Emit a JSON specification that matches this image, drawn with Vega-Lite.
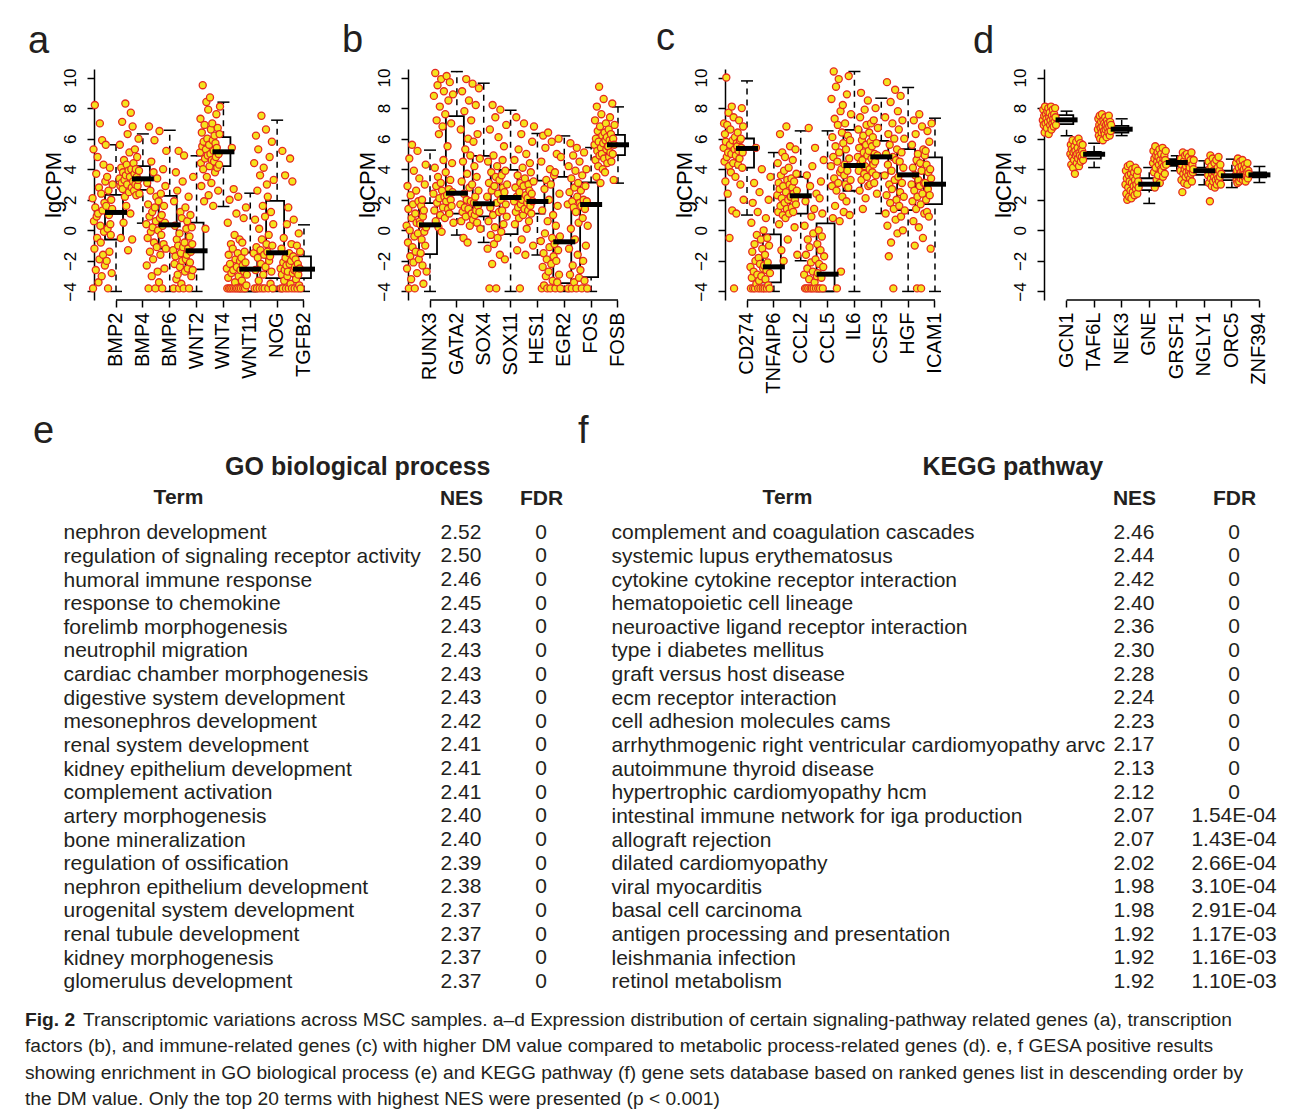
{
"$schema": "https://vega.github.io/schema/vega-lite/v6.json",
"background": "white",
"padding": {"left": 5, "top": 20, "right": 0, "bottom": 0},
"config": {"font": "Liberation Sans", "view": {"stroke": null}, "title": {"color": "#231f20", "font": "Liberation Sans"}, "axis": {"labelFont": "Liberation Sans", "titleFont": "Liberation Sans"}, "axisY": {"labelOverlap": false}},
"datasets": {
"stats": [
{"panel":"a","gene":"BMP2","lo":-4,"q1":-0.6,"med":1.17,"q3":2.32,"hi":5.6},
{"panel":"a","gene":"BMP4","lo":0.47,"q1":2.65,"med":3.37,"q3":4.2,"hi":6.31},
{"panel":"a","gene":"BMP6","lo":-4,"q1":-1.19,"med":0.36,"q3":2.26,"hi":6.55},
{"panel":"a","gene":"WNT2","lo":-4,"q1":-2.56,"med":-1.34,"q3":0.51,"hi":4.88},
{"panel":"a","gene":"WNT4","lo":1.56,"q1":4.2,"med":5.14,"q3":6.1,"hi":8.39},
{"panel":"a","gene":"WNT11","lo":-4,"q1":-4,"med":-2.54,"q3":-1.45,"hi":2.43},
{"panel":"a","gene":"NOG","lo":-4,"q1":-3.13,"med":-1.47,"q3":1.93,"hi":7.21},
{"panel":"a","gene":"TGFB2","lo":-4,"q1":-3.13,"med":-2.54,"q3":-1.71,"hi":0.36},
{"panel":"b","gene":"RUNX3","lo":-4,"q1":-1.56,"med":0.36,"q3":1.78,"hi":5.25},
{"panel":"b","gene":"GATA2","lo":-0.31,"q1":1.1,"med":2.43,"q3":7.47,"hi":10.39},
{"panel":"b","gene":"SOX4","lo":-0.79,"q1":0.91,"med":1.74,"q3":4.88,"hi":9.63},
{"panel":"b","gene":"SOX11","lo":-4,"q1":-0.25,"med":2.15,"q3":3.96,"hi":7.86},
{"panel":"b","gene":"HES1","lo":-1.62,"q1":1.1,"med":1.89,"q3":3.26,"hi":6.34},
{"panel":"b","gene":"EGR2","lo":-4,"q1":-3.45,"med":-0.75,"q3":3.5,"hi":6.18},
{"panel":"b","gene":"FOS","lo":-4,"q1":-3.06,"med":1.69,"q3":3.13,"hi":5.42},
{"panel":"b","gene":"FOSB","lo":3.09,"q1":4.92,"med":5.6,"q3":6.25,"hi":8.08},
{"panel":"c","gene":"CD274","lo":1.0,"q1":4.11,"med":5.36,"q3":6.01,"hi":9.78},
{"panel":"c","gene":"TNFAIP6","lo":-4,"q1":-3.41,"med":-2.39,"q3":-0.27,"hi":5.09},
{"panel":"c","gene":"CCL2","lo":-1.99,"q1":1.1,"med":2.26,"q3":3.5,"hi":6.51},
{"panel":"c","gene":"CCL5","lo":-4,"q1":-4,"med":-2.87,"q3":0.45,"hi":6.51},
{"panel":"c","gene":"IL6","lo":-4,"q1":2.59,"med":4.24,"q3":6.58,"hi":10.4},
{"panel":"c","gene":"CSF3","lo":1.1,"q1":3.72,"med":4.81,"q3":5.86,"hi":8.65},
{"panel":"c","gene":"HGF","lo":-4,"q1":1.32,"med":3.63,"q3":5.31,"hi":9.35},
{"panel":"c","gene":"ICAM1","lo":-4,"q1":1.71,"med":3.02,"q3":4.77,"hi":7.34},
{"panel":"d","gene":"GCN1","lo":6.19,"q1":6.95,"med":7.23,"q3":7.54,"hi":7.8},
{"panel":"d","gene":"TAF6L","lo":4.11,"q1":4.7,"med":4.98,"q3":5.14,"hi":5.7},
{"panel":"d","gene":"NEK3","lo":6.2,"q1":6.4,"med":6.62,"q3":6.84,"hi":7.3},
{"panel":"d","gene":"GNE","lo":1.76,"q1":2.63,"med":3.02,"q3":3.41,"hi":4.11},
{"panel":"d","gene":"GRSF1","lo":3.9,"q1":4.22,"med":4.44,"q3":4.66,"hi":4.88},
{"panel":"d","gene":"NGLY1","lo":2.98,"q1":3.63,"med":3.9,"q3":4.11,"hi":4.55},
{"panel":"d","gene":"ORC5","lo":2.8,"q1":3.28,"med":3.57,"q3":3.9,"hi":4.66},
{"panel":"d","gene":"ZNF394","lo":3.13,"q1":3.46,"med":3.63,"q3":3.79,"hi":4.18}
],
"pts": [
{"panel":"a","gene":"BMP2","v":[2.1,-3.8,5.3,0.6,-1.2,8.2,1.5,-2.6,3.7,0.9,-0.5,4.8,1.1,-3.4,2.8,-1.9,7.0,0.3,-0.8,2.4,-3.0,5.9,1.3,-1.6,4.3,-0.1,1.8,-2.3,3.2,5.6,1.6,-2.0,3.5,0.1,-3.8,2.6,1.0,-1.4,4.1,0.4,-0.3,2.0,-2.8,1.4,3.0]},
{"panel":"a","gene":"BMP4","v":[3.4,5.6,2.9,-0.5,4.1,3.1,7.1,2.7,3.8,0.5,4.6,3.3,2.2,8.3,3.6,1.6,4.3,3.0,6.3,-1.3,3.9,2.5,5.1,3.5,1.1,7.7,4.0,2.8,-0.6,6.8,3.2,4.4,2.6,3.7,5.3,3.0,4.0,2.3,3.5,4.8,2.9,3.3,6.0,3.9,2.4]},
{"panel":"a","gene":"BMP6","v":[0.4,-2.3,3.1,-0.5,1.7,-3.8,6.8,0.9,-1.4,2.6,-0.1,4.5,-3.0,1.2,0.2,-1.9,3.8,-0.8,5.9,1.5,-3.8,0.6,2.2,-1.1,3.4,-2.7,0.0,1.9,-3.4,6.5,0.8,-1.6,2.4,-0.3,1.0,-3.8,0.3,4.0,-0.9,1.6,-2.5,0.5,2.9,-1.2,5.2]},
{"panel":"a","gene":"WNT2","v":[-1.3,-3.8,1.9,-2.2,0.3,-1.7,3.8,-3.2,-0.6,2.6,-2.9,-1.0,5.2,-3.8,-0.2,-2.4,1.2,-1.5,-3.5,0.8,-2.0,3.2,-1.1,-3.8,4.9,-0.8,-2.7,1.5,-1.9,0.1,-1.6,0.6,-2.5,-1.2,2.2,-3.8,-0.4,-2.1,1.0,-1.4,-3.0,0.2,-0.9,-2.6,3.5]},
{"panel":"a","gene":"WNT4","v":[5.1,7.3,4.4,2.9,6.4,5.5,9.5,4.0,5.8,1.9,6.9,4.7,0.1,5.3,8.4,3.5,6.0,4.9,7.9,2.3,5.6,4.2,8.7,5.0,6.6,3.1,4.6,7.0,5.9,1.6,5.2,4.5,6.2,3.8,5.7,4.8,7.6,5.4,4.1,6.7,2.6,5.0,4.3,6.3,8.1]},
{"panel":"a","gene":"WNT11","v":[-2.5,-3.8,0.5,-3.1,-1.6,-3.8,2.0,-2.2,-3.8,-0.9,-2.8,5.4,-3.8,-1.2,-2.6,2.7,-3.8,-0.3,-3.4,-1.9,-3.8,1.1,-2.4,-3.8,-1.5,2.2,-3.0,-3.8,-0.6,-2.0,-2.6,-3.8,-1.8,-3.3,-0.8,-2.3,-3.8,0.8,-2.7,-1.4,-3.8,-2.1,1.5,-3.6,-2.9]},
{"panel":"a","gene":"NOG","v":[-1.5,4.4,-3.8,0.7,-2.6,6.2,-1.1,-3.8,2.6,-1.8,5.3,-3.3,0.1,-3.8,3.6,-1.3,-2.2,7.5,-0.6,-3.8,1.6,-2.9,4.1,-1.6,-3.8,0.9,-2.4,6.6,-0.9,3.0,-1.4,2.2,-3.8,-0.3,-2.0,4.8,-1.7,-3.5,1.2,-2.7,5.8,-1.0,-3.8,0.4,3.3]},
{"panel":"a","gene":"TGFB2","v":[-2.5,-3.8,-1.2,-2.9,5.2,-3.8,-2.1,-0.5,-3.3,-2.6,3.6,-1.8,-3.8,-2.3,0.4,-3.0,-2.7,1.5,-3.8,-1.5,-2.2,4.7,-3.5,-2.0,-0.9,-3.8,3.2,-2.8,-1.7,0.7,-2.6,-3.8,-2.4,-1.9,-3.2,-2.7,-1.0,-3.8,-2.2,-2.9,-0.2,-3.6,-2.5,-1.4,-3.8]},
{"panel":"b","gene":"RUNX3","v":[0.3,-2.5,2.9,-0.8,1.4,-3.8,4.7,0.0,-1.7,2.3,-3.2,0.8,5.6,-1.1,1.7,-2.1,3.9,-0.4,-3.8,1.1,-1.4,2.6,0.5,-2.8,5.2,-0.2,1.9,-1.9,3.4,0.6,0.4,-1.5,1.6,-0.6,2.0,-2.3,0.9,-3.5,1.3,-0.1,3.0,-1.0,4.3,0.2,-2.7]},
{"panel":"b","gene":"GATA2","v":[2.4,8.8,1.3,4.1,10.3,0.6,2.9,7.2,1.8,9.5,3.5,0.2,6.3,2.1,8.1,1.0,3.1,9.9,-0.1,2.6,6.8,1.5,4.6,9.1,2.2,0.8,7.6,3.8,1.9,10.1,2.3,5.5,1.4,8.5,2.7,1.1,9.7,3.3,2.0,7.0,1.6,4.4,2.5,8.9,0.5]},
{"panel":"b","gene":"SOX4","v":[1.7,6.6,0.6,3.2,9.1,1.2,4.5,-0.5,2.4,7.8,1.5,5.3,0.9,9.9,2.0,3.7,-0.8,6.0,1.4,8.5,2.8,0.3,4.9,1.9,7.2,1.1,3.0,9.6,0.7,5.8,1.8,4.2,1.0,2.2,8.2,1.3,3.5,0.5,6.3,1.6,2.6,9.3,1.2,4.7,0.1]},
{"panel":"b","gene":"SOX11","v":[2.2,-1.2,4.5,0.6,3.1,-3.8,6.6,1.5,-0.3,3.8,2.6,-2.2,8.2,1.0,4.9,-0.9,2.9,0.2,7.4,3.5,-3.8,1.8,4.2,-0.5,2.4,6.1,1.2,3.3,-1.6,7.9,2.0,-0.1,3.6,1.3,4.6,2.8,0.4,5.5,2.5,-1.9,3.9,1.7,6.9,0.9,3.0]},
{"panel":"b","gene":"HES1","v":[1.9,4.6,0.4,2.8,1.2,7.4,2.2,-1.3,3.6,1.5,5.3,0.8,2.5,-3.8,3.1,1.7,6.3,-0.6,2.0,4.1,1.0,2.9,7.0,1.4,3.4,-1.6,2.3,5.0,0.1,1.8,2.1,1.3,3.0,0.6,2.6,4.4,1.6,3.8,1.1,2.4,5.8,1.9,-1.0,3.2,6.8]},
{"panel":"b","gene":"EGR2","v":[-0.7,4.5,-3.8,1.3,-2.4,6.2,-1.5,-3.6,2.7,-0.2,5.4,-3.0,3.3,-1.9,-3.8,0.6,6.4,-2.7,2.0,-1.1,4.0,-3.8,3.0,-2.2,5.8,-0.5,-3.3,1.0,-1.7,3.6,-0.9,3.8,-3.8,0.3,-2.0,5.0,-3.4,1.6,-1.3,6.0,-2.9,2.4,-0.4,-3.8,4.8]},
{"panel":"b","gene":"FOS","v":[1.7,-3.8,4.2,-1.2,2.5,-2.9,5.7,0.1,3.4,-3.8,1.9,-2.3,4.9,1.5,-3.4,2.8,-0.6,3.9,1.2,-3.8,5.4,2.2,-1.6,3.1,0.5,-3.1,4.5,1.8,-2.6,2.6,1.6,-3.8,3.6,0.8,-2.0,2.0,5.1,-3.3,1.4,2.9,-1.0,4.0,1.9,-3.8,0.3]},
{"panel":"b","gene":"FOSB","v":[5.6,7.2,4.6,6.0,3.5,8.1,5.2,6.5,4.2,5.8,9.4,4.9,6.8,3.1,5.4,7.6,5.0,6.2,4.0,5.7,8.6,4.7,6.4,3.8,5.9,7.0,5.3,6.1,4.4,5.5,5.5,6.6,4.8,5.9,7.4,5.1,6.3,4.5,5.7,8.3,5.0,6.0,3.3,5.6,6.9]},
{"panel":"c","gene":"CD274","v":[5.4,7.0,4.5,6.3,3.2,5.8,10.0,4.8,6.9,2.4,5.1,7.7,4.2,-0.5,5.6,6.6,3.8,5.0,8.1,1.3,5.9,4.4,7.4,-3.8,5.3,6.1,3.5,4.9,1.1,5.7,5.5,6.4,4.3,5.2,7.2,4.7,5.9,3.0,6.0,5.4,8.0,4.1,5.1,6.8,2.0]},
{"panel":"c","gene":"TNFAIP6","v":[-2.4,-3.8,0.5,-3.1,-1.4,1.8,-3.8,-2.7,3.1,-0.9,-3.8,-2.0,5.4,-3.5,-0.3,-2.9,1.2,-3.8,-1.8,-3.3,2.5,-2.2,-3.8,-0.6,-3.0,4.0,-1.2,-3.8,-2.5,0.0,-2.3,-3.8,-1.6,-3.2,0.8,-2.6,-3.8,-0.5,-2.1,-3.6,2.0,-1.0,-3.8,-2.8,3.5]},
{"panel":"c","gene":"CCL2","v":[2.3,4.4,1.2,3.1,0.4,2.7,6.3,1.6,3.6,-1.3,2.1,5.1,1.0,2.9,-2.0,3.9,1.8,4.8,0.8,2.5,6.8,1.4,3.3,-0.6,2.0,4.1,1.1,3.0,5.5,2.2,2.2,3.4,1.5,2.8,4.6,1.2,2.4,3.2,0.2,2.0,5.3,1.7,3.7,2.6,-1.6]},
{"panel":"c","gene":"CCL5","v":[-2.9,0.3,-3.8,1.9,-1.6,-3.8,3.6,-2.5,-0.6,-3.8,6.7,-3.2,-1.1,2.9,-3.8,-2.1,0.9,-3.8,4.2,-2.7,-0.2,-3.8,1.4,-3.4,5.4,-1.9,-3.8,2.4,-3.0,-0.9,-2.8,-3.8,0.0,-2.2,2.1,-3.8,-1.3,3.2,-3.1,-0.4,1.1,-3.8,-2.4,4.6,-1.7]},
{"panel":"c","gene":"IL6","v":[4.2,8.6,2.9,6.1,0.8,4.8,10.4,3.4,7.3,1.6,5.5,9.4,2.6,-3.8,4.5,6.9,3.1,9.9,5.1,0.6,3.8,7.8,-2.7,4.0,6.4,2.2,8.2,5.7,1.2,3.6,4.3,7.0,3.0,5.3,1.9,8.9,3.9,6.2,2.8,10.1,4.7,1.0,5.9,3.3,7.6]},
{"panel":"c","gene":"CSF3","v":[4.8,6.6,3.9,5.4,2.6,7.4,4.4,9.0,3.3,5.9,4.6,1.4,6.2,5.1,3.7,7.9,4.2,2.1,5.6,6.9,3.5,4.9,8.5,2.9,5.2,6.4,4.0,3.0,5.8,7.0,4.7,5.5,3.8,6.1,4.3,7.2,3.1,5.0,4.5,8.0,3.6,5.7,2.4,4.9,6.7]},
{"panel":"c","gene":"HGF","v":[3.6,7.4,1.1,5.0,2.3,9.7,0.3,4.3,6.3,-1.7,3.0,5.6,1.8,8.4,-0.8,3.9,2.7,7.0,4.8,-3.8,1.4,6.0,3.3,9.2,0.7,4.6,2.0,5.3,-0.2,7.8,3.5,6.6,1.6,4.5,2.5,8.8,0.9,5.1,3.1,7.2,0.0,4.1,2.2,6.0,1.3]},
{"panel":"c","gene":"ICAM1","v":[3.0,5.6,1.9,4.1,0.6,7.2,2.6,-1.0,3.6,6.3,1.4,4.6,-3.8,2.2,5.0,3.3,0.2,7.6,2.9,4.4,1.7,-3.8,3.9,6.8,2.4,-0.5,5.3,3.1,1.1,4.9,3.1,5.2,2.0,4.3,1.2,6.5,2.7,3.8,0.9,5.8,2.3,4.0,-1.2,3.4,7.0]},
{"panel":"d","gene":"GCN1","v":[7.2,7.9,6.9,7.5,6.4,8.1,7.0,7.6,7.3,6.7,7.8,7.1,8.0,6.3,7.4,7.7,6.9,7.2,8.1,6.6,7.5,7.0,7.9,7.3,6.8,7.6,7.1,8.0,7.4,6.9]},
{"panel":"d","gene":"TAF6L","v":[5.0,5.6,4.3,5.3,4.8,5.9,4.1,5.1,4.6,5.5,3.7,5.2,4.9,5.8,4.4,5.0,5.4,4.7,6.0,4.2,5.1,4.9,5.7,4.5,5.3,4.8,5.2,5.6,4.6,5.0]},
{"panel":"d","gene":"NEK3","v":[6.6,7.3,6.2,6.9,7.5,6.0,6.7,7.1,6.4,7.6,6.8,5.9,7.2,6.5,7.0,6.3,7.4,6.6,6.9,6.1,7.2,6.7,7.0,6.4,7.5,6.8,6.2,7.1,6.5,6.9]},
{"panel":"d","gene":"GNE","v":[3.0,3.9,2.4,3.4,2.0,4.2,2.8,3.6,2.2,3.2,4.3,2.6,3.7,2.1,3.1,4.0,2.5,3.5,2.9,3.8,2.3,3.3,4.1,2.7,3.0,3.6,2.4,3.9,3.2,2.8]},
{"panel":"d","gene":"GRSF1","v":[4.4,5.2,3.8,4.7,2.8,5.5,4.1,4.9,3.3,4.5,5.1,3.6,4.8,4.3,5.3,3.1,4.6,4.0,5.0,3.9,4.4,5.4,3.5,4.7,4.2,4.9,3.7,4.6,5.2,4.3]},
{"panel":"d","gene":"NGLY1","v":[3.9,4.7,3.3,4.3,2.5,5.1,3.7,4.5,3.1,4.0,4.9,3.5,4.2,3.8,5.0,3.0,4.4,3.6,4.8,3.9,4.1,3.4,4.6,3.7,5.1,3.2,4.3,3.8,4.0,4.6]},
{"panel":"d","gene":"ORC5","v":[3.6,4.5,3.1,4.0,1.9,4.9,3.4,4.2,2.9,3.7,4.7,3.2,3.9,3.5,4.4,2.8,3.8,3.3,4.6,3.0,3.6,4.1,3.4,4.8,3.2,3.9,3.5,4.3,3.0,3.7]},
{"panel":"d","gene":"ZNF394","v":[3.6,4.4,3.3,3.9,3.1,4.7,3.5,4.1,3.2,3.7,4.5,3.4,3.8,4.2,3.6,4.6,3.3,3.9,4.0,3.5,4.3,3.7,3.2,4.1,3.6,3.8,4.4,3.4,3.9,3.7]}
],
"go": [
{"term":"nephron development","nes":2.52,"fdr":"0"},
{"term":"regulation of signaling receptor activity","nes":2.50,"fdr":"0"},
{"term":"humoral immune response","nes":2.46,"fdr":"0"},
{"term":"response to chemokine","nes":2.45,"fdr":"0"},
{"term":"forelimb morphogenesis","nes":2.43,"fdr":"0"},
{"term":"neutrophil migration","nes":2.43,"fdr":"0"},
{"term":"cardiac chamber morphogenesis","nes":2.43,"fdr":"0"},
{"term":"digestive system development","nes":2.43,"fdr":"0"},
{"term":"mesonephros development","nes":2.42,"fdr":"0"},
{"term":"renal system development","nes":2.41,"fdr":"0"},
{"term":"kidney epithelium development","nes":2.41,"fdr":"0"},
{"term":"complement activation","nes":2.41,"fdr":"0"},
{"term":"artery morphogenesis","nes":2.40,"fdr":"0"},
{"term":"bone mineralization","nes":2.40,"fdr":"0"},
{"term":"regulation of ossification","nes":2.39,"fdr":"0"},
{"term":"nephron epithelium development","nes":2.38,"fdr":"0"},
{"term":"urogenital system development","nes":2.37,"fdr":"0"},
{"term":"renal tubule development","nes":2.37,"fdr":"0"},
{"term":"kidney morphogenesis","nes":2.37,"fdr":"0"},
{"term":"glomerulus development","nes":2.37,"fdr":"0"}
],
"kegg": [
{"term":"complement and coagulation cascades","nes":2.46,"fdr":"0"},
{"term":"systemic lupus erythematosus","nes":2.44,"fdr":"0"},
{"term":"cytokine cytokine receptor interaction","nes":2.42,"fdr":"0"},
{"term":"hematopoietic cell lineage","nes":2.40,"fdr":"0"},
{"term":"neuroactive ligand receptor interaction","nes":2.36,"fdr":"0"},
{"term":"type i diabetes mellitus","nes":2.30,"fdr":"0"},
{"term":"graft versus host disease","nes":2.28,"fdr":"0"},
{"term":"ecm receptor interaction","nes":2.24,"fdr":"0"},
{"term":"cell adhesion molecules cams","nes":2.23,"fdr":"0"},
{"term":"arrhythmogenic right ventricular cardiomyopathy arvc","nes":2.17,"fdr":"0"},
{"term":"autoimmune thyroid disease","nes":2.13,"fdr":"0"},
{"term":"hypertrophic cardiomyopathy hcm","nes":2.12,"fdr":"0"},
{"term":"intestinal immune network for iga production","nes":2.07,"fdr":"1.54E-04"},
{"term":"allograft rejection","nes":2.07,"fdr":"1.43E-04"},
{"term":"dilated cardiomyopathy","nes":2.02,"fdr":"2.66E-04"},
{"term":"viral myocarditis","nes":1.98,"fdr":"3.10E-04"},
{"term":"basal cell carcinoma","nes":1.98,"fdr":"2.91E-04"},
{"term":"antigen processing and presentation","nes":1.92,"fdr":"1.17E-03"},
{"term":"leishmania infection","nes":1.92,"fdr":"1.16E-03"},
{"term":"retinol metabolism","nes":1.92,"fdr":"1.10E-03"}
],
"cap": [
{"line":1,"lead":"Fig. 2","txt":"Transcriptomic variations across MSC samples. a–d Expression distribution of certain signaling-pathway related genes (a), transcription"},
{"line":2,"lead":"","txt":"factors (b), and immune-related genes (c) with higher DM value compared to metabolic process-related genes (d). e, f GESA positive results"},
{"line":3,"lead":"","txt":"showing enrichment in GO biological process (e) and KEGG pathway (f) gene sets database based on ranked genes list in descending order by"},
{"line":4,"lead":"","txt":"the DM value. Only the top 20 terms with highest NES were presented (p < 0.001)"}
]
},
"columns": 1,
"spacing": 19,
"concat": [
{
"hconcat": [
{"width": 7, "height": 1, "data": {"values": [{}]}, "mark": {"type": "text", "text": ""}},
{
"title": {"text": "a", "anchor": "start", "frame": "bounds", "fontSize": 38, "fontWeight": "normal", "offset": 7, "dx": -14},
"width": 232, "height": 231,
"layer": [
{"data": {"name": "stats"}, "transform": [{"filter": "datum.panel === 'a'"}], "mark": {"type": "rule", "strokeDash": [6, 5], "strokeWidth": 1.5, "color": "black"},
 "encoding": {"x": {"field": "gene", "type": "nominal", "scale": {"domain": ["BMP2","BMP4","BMP6","WNT2","WNT4","WNT11","NOG","TGFB2"], "paddingInner": 0, "paddingOuter": 0.32}, "axis": {"title": null, "labelAngle": 270, "labelFontSize": 20, "labelColor": "black", "labelPadding": 5, "tickSize": 7, "tickWidth": 1.5, "tickColor": "black", "domain": false, "labelOverlap": false}},
  "y": {"field": "lo", "type": "quantitative", "scale": {"domain": [-4.56, 10.56], "nice": false, "zero": false}, "axis": {"title": "lgCPM", "values": [-4,-2,0,2,4,6,8,10], "tickCount": 8, "labelAngle": -90, "labelAlign": "center", "labelBaseline": "bottom", "labelFontSize": 17, "labelPadding": 8, "tickSize": 7, "tickWidth": 1.5, "tickColor": "black", "domainColor": "black", "domainWidth": 1.5, "labelColor": "black", "titleFontSize": 22, "titleFontWeight": "normal", "titleColor": "black", "titlePadding": -1, "minExtent": 30, "maxExtent": 30, "grid": false, "labelOverlap": false, "labelFlush": false}},
  "y2": {"field": "q1"}}},
{"data": {"name": "stats"}, "transform": [{"filter": "datum.panel === 'a'"}], "mark": {"type": "rule", "strokeDash": [6, 5], "strokeWidth": 1.5, "color": "black"},
 "encoding": {"x": {"field": "gene", "type": "nominal"}, "y": {"field": "q3", "type": "quantitative"}, "y2": {"field": "hi"}}},
{"data": {"name": "stats"}, "transform": [{"filter": "datum.panel === 'a'"}], "mark": {"type": "tick", "size": 12, "thickness": 1.5, "color": "black", "opacity": 1},
 "encoding": {"x": {"field": "gene", "type": "nominal"}, "y": {"field": "lo", "type": "quantitative"}}},
{"data": {"name": "stats"}, "transform": [{"filter": "datum.panel === 'a'"}], "mark": {"type": "tick", "size": 12, "thickness": 1.5, "color": "black", "opacity": 1},
 "encoding": {"x": {"field": "gene", "type": "nominal"}, "y": {"field": "hi", "type": "quantitative"}}},
{"data": {"name": "stats"}, "transform": [{"filter": "datum.panel === 'a'"}], "mark": {"type": "bar", "width": {"band": 0.82}, "fill": "white", "fillOpacity": 0, "stroke": "black", "strokeWidth": 1.8},
 "encoding": {"x": {"field": "gene", "type": "nominal"}, "y": {"field": "q1", "type": "quantitative"}, "y2": {"field": "q3"}}},
{"data": {"name": "pts"}, "transform": [{"filter": "datum.panel === 'a'"}, {"flatten": ["v"]}, {"window": [{"op": "row_number", "as": "i"}], "groupby": ["gene"]}],
 "mark": {"type": "circle", "size": 50, "fill": "#f4e31c", "stroke": "#e52a20", "strokeWidth": 1.3, "opacity": 1},
 "encoding": {"x": {"field": "gene", "type": "nominal"}, "xOffset": {"field": "i", "type": "quantitative", "scale": {"domain": [1, 45], "range": [-10, 10]}}, "y": {"field": "v", "type": "quantitative"}}},
{"data": {"name": "stats"}, "transform": [{"filter": "datum.panel === 'a'"}], "mark": {"type": "tick", "size": 22, "thickness": 5, "color": "black", "opacity": 1},
 "encoding": {"x": {"field": "gene", "type": "nominal"}, "y": {"field": "med", "type": "quantitative"}}},
{"data": {"values": [{}]}, "mark": {"type": "rule", "color": "black", "strokeWidth": 1.5},
 "encoding": {"x": {"datum": "BMP2"}, "x2": {"datum": "TGFB2"}, "y": {"datum": -4.56}}}
]
},
{
"title": {"text": "b", "anchor": "start", "frame": "bounds", "fontSize": 38, "fontWeight": "normal", "offset": 7, "dx": -14},
"width": 232, "height": 231,
"layer": [
{"data": {"name": "stats"}, "transform": [{"filter": "datum.panel === 'b'"}], "mark": {"type": "rule", "strokeDash": [6, 5], "strokeWidth": 1.5, "color": "black"},
 "encoding": {"x": {"field": "gene", "type": "nominal", "scale": {"domain": ["RUNX3","GATA2","SOX4","SOX11","HES1","EGR2","FOS","FOSB"], "paddingInner": 0, "paddingOuter": 0.32}, "axis": {"title": null, "labelAngle": 270, "labelFontSize": 20, "labelColor": "black", "labelPadding": 5, "tickSize": 7, "tickWidth": 1.5, "tickColor": "black", "domain": false, "labelOverlap": false}},
  "y": {"field": "lo", "type": "quantitative", "scale": {"domain": [-4.56, 10.56], "nice": false, "zero": false}, "axis": {"title": "lgCPM", "values": [-4,-2,0,2,4,6,8,10], "tickCount": 8, "labelAngle": -90, "labelAlign": "center", "labelBaseline": "bottom", "labelFontSize": 17, "labelPadding": 8, "tickSize": 7, "tickWidth": 1.5, "tickColor": "black", "domainColor": "black", "domainWidth": 1.5, "labelColor": "black", "titleFontSize": 22, "titleFontWeight": "normal", "titleColor": "black", "titlePadding": -1, "minExtent": 30, "maxExtent": 30, "grid": false, "labelOverlap": false, "labelFlush": false}},
  "y2": {"field": "q1"}}},
{"data": {"name": "stats"}, "transform": [{"filter": "datum.panel === 'b'"}], "mark": {"type": "rule", "strokeDash": [6, 5], "strokeWidth": 1.5, "color": "black"},
 "encoding": {"x": {"field": "gene", "type": "nominal"}, "y": {"field": "q3", "type": "quantitative"}, "y2": {"field": "hi"}}},
{"data": {"name": "stats"}, "transform": [{"filter": "datum.panel === 'b'"}], "mark": {"type": "tick", "size": 12, "thickness": 1.5, "color": "black", "opacity": 1},
 "encoding": {"x": {"field": "gene", "type": "nominal"}, "y": {"field": "lo", "type": "quantitative"}}},
{"data": {"name": "stats"}, "transform": [{"filter": "datum.panel === 'b'"}], "mark": {"type": "tick", "size": 12, "thickness": 1.5, "color": "black", "opacity": 1},
 "encoding": {"x": {"field": "gene", "type": "nominal"}, "y": {"field": "hi", "type": "quantitative"}}},
{"data": {"name": "stats"}, "transform": [{"filter": "datum.panel === 'b'"}], "mark": {"type": "bar", "width": {"band": 0.82}, "fill": "white", "fillOpacity": 0, "stroke": "black", "strokeWidth": 1.8},
 "encoding": {"x": {"field": "gene", "type": "nominal"}, "y": {"field": "q1", "type": "quantitative"}, "y2": {"field": "q3"}}},
{"data": {"name": "pts"}, "transform": [{"filter": "datum.panel === 'b'"}, {"flatten": ["v"]}, {"window": [{"op": "row_number", "as": "i"}], "groupby": ["gene"]}],
 "mark": {"type": "circle", "size": 50, "fill": "#f4e31c", "stroke": "#e52a20", "strokeWidth": 1.3, "opacity": 1},
 "encoding": {"x": {"field": "gene", "type": "nominal"}, "xOffset": {"field": "i", "type": "quantitative", "scale": {"domain": [1, 45], "range": [-10, 10]}}, "y": {"field": "v", "type": "quantitative"}}},
{"data": {"name": "stats"}, "transform": [{"filter": "datum.panel === 'b'"}], "mark": {"type": "tick", "size": 22, "thickness": 5, "color": "black", "opacity": 1},
 "encoding": {"x": {"field": "gene", "type": "nominal"}, "y": {"field": "med", "type": "quantitative"}}},
{"data": {"values": [{}]}, "mark": {"type": "rule", "color": "black", "strokeWidth": 1.5},
 "encoding": {"x": {"datum": "RUNX3"}, "x2": {"datum": "FOSB"}, "y": {"datum": -4.56}}}
]
},
{
"title": {"text": "c", "anchor": "start", "frame": "bounds", "fontSize": 38, "fontWeight": "normal", "offset": 7, "dx": -17},
"width": 232, "height": 231,
"layer": [
{"data": {"name": "stats"}, "transform": [{"filter": "datum.panel === 'c'"}], "mark": {"type": "rule", "strokeDash": [6, 5], "strokeWidth": 1.5, "color": "black"},
 "encoding": {"x": {"field": "gene", "type": "nominal", "scale": {"domain": ["CD274","TNFAIP6","CCL2","CCL5","IL6","CSF3","HGF","ICAM1"], "paddingInner": 0, "paddingOuter": 0.32}, "axis": {"title": null, "labelAngle": 270, "labelFontSize": 20, "labelColor": "black", "labelPadding": 5, "tickSize": 7, "tickWidth": 1.5, "tickColor": "black", "domain": false, "labelOverlap": false}},
  "y": {"field": "lo", "type": "quantitative", "scale": {"domain": [-4.56, 10.56], "nice": false, "zero": false}, "axis": {"title": "lgCPM", "values": [-4,-2,0,2,4,6,8,10], "tickCount": 8, "labelAngle": -90, "labelAlign": "center", "labelBaseline": "bottom", "labelFontSize": 17, "labelPadding": 8, "tickSize": 7, "tickWidth": 1.5, "tickColor": "black", "domainColor": "black", "domainWidth": 1.5, "labelColor": "black", "titleFontSize": 22, "titleFontWeight": "normal", "titleColor": "black", "titlePadding": -1, "minExtent": 30, "maxExtent": 30, "grid": false, "labelOverlap": false, "labelFlush": false}},
  "y2": {"field": "q1"}}},
{"data": {"name": "stats"}, "transform": [{"filter": "datum.panel === 'c'"}], "mark": {"type": "rule", "strokeDash": [6, 5], "strokeWidth": 1.5, "color": "black"},
 "encoding": {"x": {"field": "gene", "type": "nominal"}, "y": {"field": "q3", "type": "quantitative"}, "y2": {"field": "hi"}}},
{"data": {"name": "stats"}, "transform": [{"filter": "datum.panel === 'c'"}], "mark": {"type": "tick", "size": 12, "thickness": 1.5, "color": "black", "opacity": 1},
 "encoding": {"x": {"field": "gene", "type": "nominal"}, "y": {"field": "lo", "type": "quantitative"}}},
{"data": {"name": "stats"}, "transform": [{"filter": "datum.panel === 'c'"}], "mark": {"type": "tick", "size": 12, "thickness": 1.5, "color": "black", "opacity": 1},
 "encoding": {"x": {"field": "gene", "type": "nominal"}, "y": {"field": "hi", "type": "quantitative"}}},
{"data": {"name": "stats"}, "transform": [{"filter": "datum.panel === 'c'"}], "mark": {"type": "bar", "width": {"band": 0.82}, "fill": "white", "fillOpacity": 0, "stroke": "black", "strokeWidth": 1.8},
 "encoding": {"x": {"field": "gene", "type": "nominal"}, "y": {"field": "q1", "type": "quantitative"}, "y2": {"field": "q3"}}},
{"data": {"name": "pts"}, "transform": [{"filter": "datum.panel === 'c'"}, {"flatten": ["v"]}, {"window": [{"op": "row_number", "as": "i"}], "groupby": ["gene"]}],
 "mark": {"type": "circle", "size": 50, "fill": "#f4e31c", "stroke": "#e52a20", "strokeWidth": 1.3, "opacity": 1},
 "encoding": {"x": {"field": "gene", "type": "nominal"}, "xOffset": {"field": "i", "type": "quantitative", "scale": {"domain": [1, 45], "range": [-10, 10]}}, "y": {"field": "v", "type": "quantitative"}}},
{"data": {"name": "stats"}, "transform": [{"filter": "datum.panel === 'c'"}], "mark": {"type": "tick", "size": 22, "thickness": 5, "color": "black", "opacity": 1},
 "encoding": {"x": {"field": "gene", "type": "nominal"}, "y": {"field": "med", "type": "quantitative"}}},
{"data": {"values": [{}]}, "mark": {"type": "rule", "color": "black", "strokeWidth": 1.5},
 "encoding": {"x": {"datum": "CD274"}, "x2": {"datum": "ICAM1"}, "y": {"datum": -4.56}}}
]
},
{
"title": {"text": "d", "anchor": "start", "frame": "bounds", "fontSize": 38, "fontWeight": "normal", "offset": 7, "dx": -19},
"width": 238, "height": 231,
"layer": [
{"data": {"name": "stats"}, "transform": [{"filter": "datum.panel === 'd'"}], "mark": {"type": "rule", "strokeDash": [6, 5], "strokeWidth": 1.5, "color": "black"},
 "encoding": {"x": {"field": "gene", "type": "nominal", "scale": {"domain": ["GCN1","TAF6L","NEK3","GNE","GRSF1","NGLY1","ORC5","ZNF394"], "paddingInner": 0, "paddingOuter": 0.32}, "axis": {"title": null, "labelAngle": 270, "labelFontSize": 20, "labelColor": "black", "labelPadding": 5, "tickSize": 7, "tickWidth": 1.5, "tickColor": "black", "domain": false, "labelOverlap": false}},
  "y": {"field": "lo", "type": "quantitative", "scale": {"domain": [-4.56, 10.56], "nice": false, "zero": false}, "axis": {"title": "lgCPM", "values": [-4,-2,0,2,4,6,8,10], "tickCount": 8, "labelAngle": -90, "labelAlign": "center", "labelBaseline": "bottom", "labelFontSize": 17, "labelPadding": 8, "tickSize": 7, "tickWidth": 1.5, "tickColor": "black", "domainColor": "black", "domainWidth": 1.5, "labelColor": "black", "titleFontSize": 22, "titleFontWeight": "normal", "titleColor": "black", "titlePadding": -1, "minExtent": 30, "maxExtent": 30, "grid": false, "labelOverlap": false, "labelFlush": false}},
  "y2": {"field": "q1"}}},
{"data": {"name": "stats"}, "transform": [{"filter": "datum.panel === 'd'"}], "mark": {"type": "rule", "strokeDash": [6, 5], "strokeWidth": 1.5, "color": "black"},
 "encoding": {"x": {"field": "gene", "type": "nominal"}, "y": {"field": "q3", "type": "quantitative"}, "y2": {"field": "hi"}}},
{"data": {"name": "stats"}, "transform": [{"filter": "datum.panel === 'd'"}], "mark": {"type": "tick", "size": 12, "thickness": 1.5, "color": "black", "opacity": 1},
 "encoding": {"x": {"field": "gene", "type": "nominal"}, "y": {"field": "lo", "type": "quantitative"}}},
{"data": {"name": "stats"}, "transform": [{"filter": "datum.panel === 'd'"}], "mark": {"type": "tick", "size": 12, "thickness": 1.5, "color": "black", "opacity": 1},
 "encoding": {"x": {"field": "gene", "type": "nominal"}, "y": {"field": "hi", "type": "quantitative"}}},
{"data": {"name": "stats"}, "transform": [{"filter": "datum.panel === 'd'"}], "mark": {"type": "bar", "width": {"band": 0.82}, "fill": "white", "fillOpacity": 0, "stroke": "black", "strokeWidth": 1.8},
 "encoding": {"x": {"field": "gene", "type": "nominal"}, "y": {"field": "q1", "type": "quantitative"}, "y2": {"field": "q3"}}},
{"data": {"name": "pts"}, "transform": [{"filter": "datum.panel === 'd'"}, {"flatten": ["v"]}, {"window": [{"op": "row_number", "as": "i"}], "groupby": ["gene"]}],
 "mark": {"type": "circle", "size": 50, "fill": "#f4e31c", "stroke": "#e52a20", "strokeWidth": 1.3, "opacity": 1},
 "encoding": {"x": {"field": "gene", "type": "nominal"}, "xOffset": {"field": "i", "type": "quantitative", "scale": {"domain": [1, 30], "range": [-10, 10]}}, "y": {"field": "v", "type": "quantitative"}}},
{"data": {"name": "stats"}, "transform": [{"filter": "datum.panel === 'd'"}], "mark": {"type": "tick", "size": 22, "thickness": 5, "color": "black", "opacity": 1},
 "encoding": {"x": {"field": "gene", "type": "nominal"}, "y": {"field": "med", "type": "quantitative"}}},
{"data": {"values": [{}]}, "mark": {"type": "rule", "color": "black", "strokeWidth": 1.5},
 "encoding": {"x": {"datum": "GCN1"}, "x2": {"datum": "ZNF394"}, "y": {"datum": -4.56}}}
]
}
],
"spacing": 16
},
{
"vconcat": [
{
"hconcat": [
{"width": 13, "height": 1, "data": {"values": [{}]}, "mark": {"type": "text", "text": ""}},
{
"title": {"text": "e", "anchor": "start", "frame": "bounds", "fontSize": 38, "fontWeight": "normal", "offset": 4, "dx": -30},
"vconcat": [
{
"title": {"text": "GO  biological process", "anchor": "middle", "frame": "bounds", "fontSize": 25, "fontWeight": "bold", "offset": 6, "dx": 45},
"data": {"name": "go"},
"width": 120, "height": {"step": 23.63},
"encoding": {"y": {"field": "term", "type": "nominal", "sort": null, "axis": {"orient": "left", "title": "Term", "titleAngle": 0, "titleX": -263, "titleY": -24, "titleAlign": "center", "titleBaseline": "middle", "titleFontSize": 21, "titleFontWeight": "bold", "titleColor": "#231f20", "domain": false, "ticks": false, "labelAlign": "left", "labelPadding": 378, "labelLimit": 0, "labelFontSize": 21, "labelAngle": 0, "labelColor": "#231f20", "labelOverlap": false}}},
"layer": [
{"mark": {"type": "text", "fontSize": 21, "color": "#231f20"}, "encoding": {"x": {"datum": "NES", "type": "nominal", "scale": {"type": "point", "domain": ["NES", "FDR"], "padding": 0.25}, "axis": {"orient": "top", "title": null, "domain": false, "ticks": false, "labelAngle": 0, "labelFontWeight": "bold", "labelFontSize": 21, "labelColor": "#231f20", "labelPadding": 13}}, "text": {"field": "nes", "type": "quantitative", "format": ".2f"}}},
{"mark": {"type": "text", "fontSize": 21, "color": "#231f20"}, "encoding": {"x": {"datum": "FDR", "type": "nominal"}, "text": {"field": "fdr", "type": "nominal"}}}
]
}
]
},
{
"title": {"text": "f", "anchor": "start", "frame": "bounds", "fontSize": 38, "fontWeight": "normal", "offset": 4, "dx": -33},
"vconcat": [
{
"title": {"text": "KEGG pathway", "anchor": "middle", "frame": "bounds", "fontSize": 25, "fontWeight": "bold", "offset": 6, "dx": 69},
"data": {"name": "kegg"},
"width": 150, "height": {"step": 23.63},
"encoding": {"y": {"field": "term", "type": "nominal", "sort": null, "axis": {"orient": "left", "title": "Term", "titleAngle": 0, "titleX": -322, "titleY": -24, "titleAlign": "center", "titleBaseline": "middle", "titleFontSize": 21, "titleFontWeight": "bold", "titleColor": "#231f20", "domain": false, "ticks": false, "labelAlign": "left", "labelPadding": 498, "labelLimit": 0, "labelFontSize": 21, "labelAngle": 0, "labelColor": "#231f20", "labelOverlap": false}}},
"layer": [
{"mark": {"type": "text", "fontSize": 21, "color": "#231f20"}, "encoding": {"x": {"datum": "NES", "type": "nominal", "scale": {"type": "point", "domain": ["NES", "FDR"], "padding": 0.25}, "axis": {"orient": "top", "title": null, "domain": false, "ticks": false, "labelAngle": 0, "labelFontWeight": "bold", "labelFontSize": 21, "labelColor": "#231f20", "labelPadding": 13}}, "text": {"field": "nes", "type": "quantitative", "format": ".2f"}}},
{"mark": {"type": "text", "fontSize": 21, "color": "#231f20"}, "encoding": {"x": {"datum": "FDR", "type": "nominal"}, "text": {"field": "fdr", "type": "nominal"}}}
]
}
]
}
],
"spacing": 15
},
{
"hconcat": [
{"width": 5, "height": 1, "data": {"values": [{}]}, "mark": {"type": "text", "text": ""}},
{
"data": {"name": "cap"},
"width": 1240, "height": {"step": 26.3},
"encoding": {"y": {"field": "line", "type": "ordinal", "axis": null}, "x": {"datum": 0, "type": "quantitative", "scale": {"domain": [0, 1]}, "axis": null}},
"layer": [
{"transform": [{"filter": "datum.line > 1"}], "mark": {"type": "text", "align": "left", "baseline": "middle", "fontSize": 19.2, "color": "#231f20"}, "encoding": {"text": {"field": "txt"}}},
{"transform": [{"filter": "datum.line === 1"}], "mark": {"type": "text", "align": "left", "baseline": "middle", "fontSize": 19.2, "dx": 58, "color": "#231f20"}, "encoding": {"text": {"field": "txt"}}},
{"transform": [{"filter": "datum.line === 1"}], "mark": {"type": "text", "align": "left", "baseline": "middle", "fontSize": 19.2, "fontWeight": "bold", "color": "#231f20"}, "encoding": {"text": {"field": "lead"}}}
]
}
],
"spacing": 15
}
],
"spacing": 7
}
]
}
